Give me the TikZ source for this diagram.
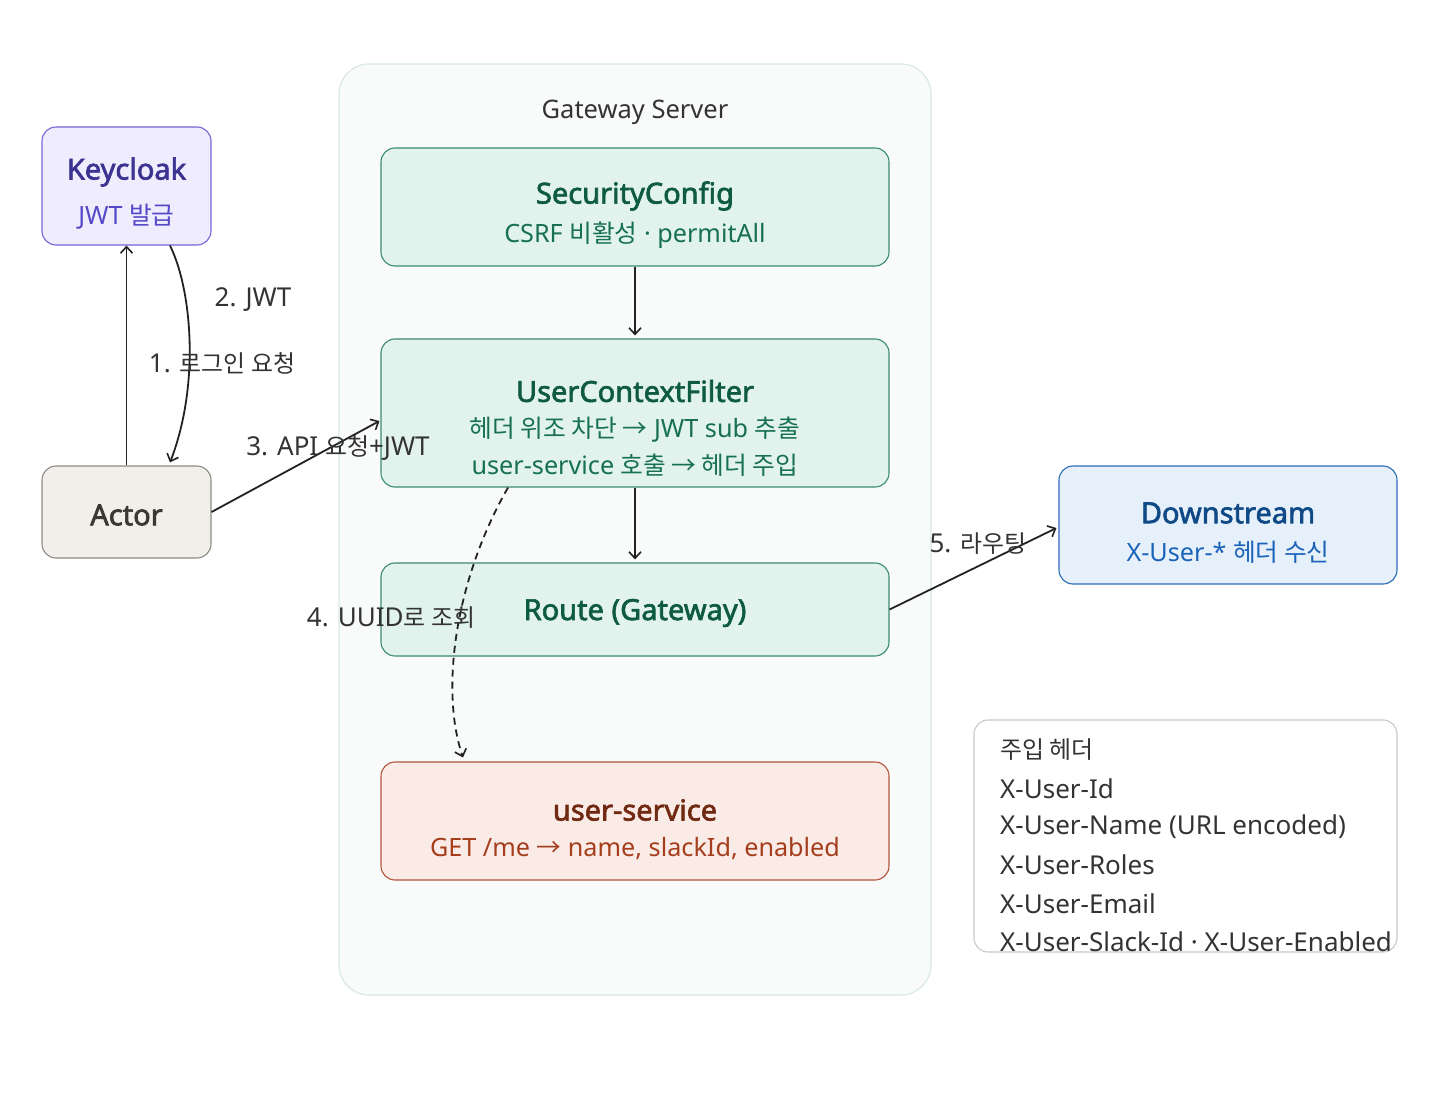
\documentclass[tikz,border=0pt]{standalone}
\usepackage{fontspec}
\setmainfont{Noto Sans}[AutoFakeBold=2.2]
\newfontfamily\kr{Noto Sans CJK KR}[Scale=0.92]
\newfontfamily\krs{Noto Sans CJK KR}[Scale=0.98]
\usetikzlibrary{arrows.meta,calc}
\definecolor{contfill}{HTML}{F8FBFA}
\definecolor{contline}{HTML}{D6E8E2}
\definecolor{gfill}{HTML}{E1F3EC}
\definecolor{gline}{HTML}{3A8C6C}
\definecolor{gtitle}{HTML}{0E5A43}
\definecolor{gsub}{HTML}{17704F}
\definecolor{pfill}{HTML}{EEECFD}
\definecolor{pline}{HTML}{7267D6}
\definecolor{ptitle}{HTML}{3C3391}
\definecolor{psub}{HTML}{5548C8}
\definecolor{afill}{HTML}{F1EFE9}
\definecolor{aline}{HTML}{8E8B83}
\definecolor{atext}{HTML}{3A3833}
\definecolor{bfill}{HTML}{E5F0FB}
\definecolor{bline}{HTML}{2C6CB8}
\definecolor{btitle}{HTML}{0F4A87}
\definecolor{bsub}{HTML}{1B63B8}
\definecolor{rfill}{HTML}{FBEBE6}
\definecolor{rline}{HTML}{B0553B}
\definecolor{rtitle}{HTML}{712A12}
\definecolor{rsub}{HTML}{A43E1C}
\definecolor{lline}{HTML}{C9C9C9}
\definecolor{txt}{HTML}{333333}
\definecolor{arr}{HTML}{222222}
\tikzset{
  box/.style={draw, rounded corners=14pt, line width=1.1pt, inner sep=0pt},
  ttl/.style={inner sep=0pt, font=\fontsize{29}{32}\selectfont\bfseries},
  sub/.style={inner sep=0pt, font=\fontsize{25.2}{28}\selectfont},
  lbl/.style={inner sep=0pt, text=txt, font=\fontsize{26}{29}\selectfont},
  conn/.style={draw=arr, line width=1.8pt, -{Straight Barb[length=6.5pt,width=12pt,line width=1.6pt]}},
}
\begin{document}
\begin{tikzpicture}[x=1pt,y=-1pt]
\useasboundingbox[fill=white] (0,0) rectangle (1440,1102);
% container
\node[draw=contline, fill=contfill, line width=1.1pt, rounded corners=30pt, minimum width=592pt, minimum height=931pt] (gw) at (635,529.5) {};
\node[lbl, font=\fontsize{25.5}{28}\selectfont] (gwt) at (635,112) {Gateway Server};
% boxes
\node[box, draw=gline, fill=gfill, minimum width=508pt, minimum height=118pt] (sc) at (635,207) {};
\node[ttl, text=gtitle] (sct) at (635,196) {SecurityConfig};
\node[sub, text=gsub] (scs) at (635,235) {CSRF {\krs 비활성} · permitAll};

\node[box, draw=gline, fill=gfill, minimum width=508pt, minimum height=148pt] (ucf) at (635,413) {};
\node[ttl, text=gtitle] (ucft) at (635,391) {UserContextFilter};
\node[sub, text=gsub] (ucf1) at (635,430) {{\krs 헤더 위조 차단 →} JWT sub {\krs 추출}};
\node[sub, text=gsub] (ucf2) at (635,465) {user-service {\krs 호출 → 헤더 주입}};

\node[box, draw=gline, fill=gfill, minimum width=508pt, minimum height=93pt] (rt) at (635,609.5) {};
\node[ttl, text=gtitle] (rtt) at (635,613) {Route (Gateway)};

\node[box, draw=rline, fill=rfill, minimum width=508pt, minimum height=118pt] (us) at (635,821) {};
\node[ttl, text=rtitle] (ust) at (635,810) {user-service};
\node[sub, text=rsub] (uss) at (635,849) {GET /me {\krs →} name, slackId, enabled};

\node[box, draw=pline, fill=pfill, minimum width=169pt, minimum height=118pt] (kc) at (126.5,186) {};
\node[ttl, text=ptitle] (kct) at (126.5,172) {Keycloak};
\node[sub, text=psub] (kcs) at (126.5,217) {JWT {\krs 발급}};

\node[box, draw=aline, fill=afill, minimum width=169pt, minimum height=92pt] (ac) at (126.5,512) {};
\node[ttl, text=atext] (act) at (126.5,515) {Actor};

\node[box, draw=bline, fill=bfill, minimum width=338pt, minimum height=118pt] (ds) at (1228,525) {};
\node[ttl, text=btitle] (dst) at (1228,513) {Downstream};
\node[sub, text=bsub] (dss) at (1228,552) {X-User-* {\krs 헤더 수신}};

% legend
\node[box, draw=lline, fill=white, minimum width=423pt, minimum height=232pt] (lg) at (1185.5,836) {};
\node[lbl, anchor=west] (l0) at (1000,750) {\kr 주입 헤더};
\node[lbl, anchor=west] (l1) at (1000,789) {X-User-Id};
\node[lbl, anchor=west] (l2) at (1000,827) {X-User-Name (URL encoded)};
\node[lbl, anchor=west] (l3) at (1000,865) {X-User-Roles};
\node[lbl, anchor=west] (l4) at (1000,904) {X-User-Email};
\node[lbl, anchor=west] (l5) at (1000,942) {X-User-Slack-Id · X-User-Enabled};

% connectors
\draw[conn] (sc.south) -- ($(ucf.north)+(0,-3)$);
\draw[conn] (ucf.south) -- ($(rt.north)+(0,-3)$);
\draw[conn] (ac.north) -- (kc.south);
\draw[conn] ($(kc.south)+(43.5,0)$) .. controls (192,290) and (200,385) .. ($(ac.north)+(43.5,-3)$);
\draw[conn] (ac.east) -- ($(ucf.west)+(-1,8)$);
\draw[conn, dash pattern=on 7pt off 5pt] ($(ucf.south)+(-127,0)$) .. controls (455,580) and (440,690) .. ($(us.north)+(-172,-4)$);
\draw[conn] (rt.east) -- ($(ds.west)+(-2,3)$);

% edge labels
\node[lbl] (e1) at (222,363) {1. {\kr 로그인 요청}};
\node[lbl] (e2) at (253,300) {2. JWT};
\node[lbl] (e3) at (338,448) {3. API {\kr 요청}+JWT};
\node[lbl] (e4) at (391,618) {4. UUID{\kr 로 조회}};
\node[lbl] (e5) at (978,544) {5. {\kr 라우팅}};
\end{tikzpicture}
\end{document}
